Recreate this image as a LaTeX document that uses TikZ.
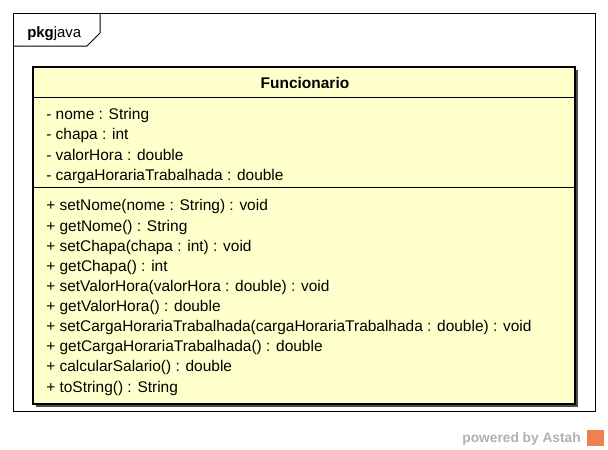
\documentclass[tikz,border=0pt]{standalone}
\usepackage{fontspec}
\setmainfont{Liberation Sans}
\definecolor{clsfill}{HTML}{FFFFCC}
\definecolor{astahgray}{HTML}{B0B0B0}
\definecolor{astahorange}{HTML}{F08050}
\begin{document}
\begin{tikzpicture}[x=0.75pt,y=-0.75pt,
  txt/.style={anchor=base west,inner sep=0pt,font=\fontsize{11.6pt}{13pt}\selectfont},
  frameline/.style={draw=black,line width=0.75pt}]
\useasboundingbox (0,0) rectangle (608,450);
\fill[white] (0,0) rectangle (608,450);
% package frame
\draw[frameline] (13,13) rectangle (595,411);
\draw[frameline] (13,46) -- (87,46) -- (100,33) -- (100,13);
\node[anchor=base west,inner sep=0pt,font=\fontsize{11.2pt}{13pt}\selectfont] (pkg) at (27,37) {\textbf{pkg}java};
% class box
\fill[black!70] (36,70) rectangle (578,407);
\draw[fill=clsfill,line width=2.2pt] (33,67) rectangle (575,404);
\draw[line width=0.75pt] (33,97) -- (575,97);
\draw[line width=0.75pt] (33,187) -- (575,187);
\node[anchor=base,inner sep=0pt,font=\fontsize{11.6pt}{13pt}\selectfont\bfseries] (title) at (305,88) {Funcionario};
\node[txt] (a1) at (46,119) {- nome : String};
\node[txt] (a2) at (46,139) {- chapa : int};
\node[txt] (a3) at (46,160) {- valorHora : double};
\node[txt] (a4) at (46,180) {- cargaHorariaTrabalhada : double};
\node[txt] (m1) at (46,210) {+ setNome(nome : String) : void};
\node[txt] (m2) at (46,231) {+ getNome() : String};
\node[txt] (m3) at (46,251) {+ setChapa(chapa : int) : void};
\node[txt] (m4) at (46,271) {+ getChapa() : int};
\node[txt] (m5) at (46,291) {+ setValorHora(valorHora : double) : void};
\node[txt] (m6) at (46,311) {+ getValorHora() : double};
\node[txt] (m7) at (46,331) {+ setCargaHorariaTrabalhada(cargaHorariaTrabalhada : double) : void};
\node[txt] (m8) at (46,351) {+ getCargaHorariaTrabalhada() : double};
\node[txt] (m9) at (46,371) {+ calcularSalario() : double};
\node[txt] (m10) at (46,392) {+ toString() : String};
% powered by
\node[anchor=base east,inner sep=0pt,text=astahgray,font=\fontsize{10.3pt}{12pt}\selectfont\bfseries] (pow) at (581,442) {powered by Astah};
\fill[astahorange] (587,430) rectangle (604,446);
\end{tikzpicture}
\end{document}
